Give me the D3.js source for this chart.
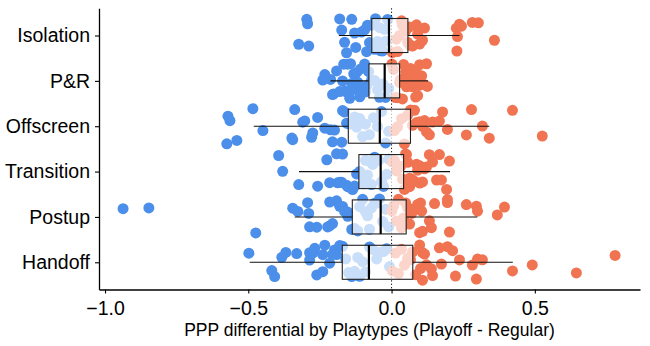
<!DOCTYPE html>
<html>
<head>
<meta charset="utf-8">
<script src="https://cdn.jsdelivr.net/npm/d3@7"></script>
<style>
  body { margin: 0; background: #fff; }
  svg { display: block; font-family: "Liberation Sans", Arial, sans-serif; }
</style>
</head>
<body>
<svg id="chart" width="650" height="346"></svg>
<script>
// ---------------- data ----------------
const categories = ["Isolation", "P&R", "Offscreen", "Transition", "Postup", "Handoff"];

const isolationValues = [-0.324, -0.296, -0.293, -0.289, -0.181, -0.174, -0.164, -0.157, -0.139, -0.129, -0.125, -0.105, -0.094, -0.087, -0.084, -0.077, -0.070, -0.066, -0.059, -0.056, -0.052, -0.049, -0.042, -0.038, -0.031, -0.024, -0.021, -0.014,
  0.003, 0.017, 0.021, 0.028, 0.035, 0.038, 0.038, 0.049, 0.056, 0.063, 0.063, 0.073, 0.087, 0.091, 0.098, 0.108, 0.115, 0.226, 0.228, 0.230, 0.237, 0.244, 0.282, 0.303, 0.359];
const prValues = [-0.240, -0.233, -0.213, -0.206, -0.202, -0.192, -0.181, -0.171, -0.167, -0.164, -0.157, -0.153, -0.146, -0.143, -0.139, -0.136, -0.132, -0.122, -0.118, -0.111, -0.108, -0.105, -0.094, -0.091, -0.087, -0.080, -0.070, -0.059, -0.049, -0.042, -0.031, -0.021, -0.010,
  0.001, 0.007, 0.014, 0.021, 0.028, 0.031, 0.038, 0.042, 0.049, 0.052, 0.059, 0.063, 0.066, 0.073, 0.080, 0.084, 0.087, 0.091, 0.094, 0.098, 0.105, 0.115, 0.122, 0.125];
const offscreenValues = [-0.575, -0.571, -0.564, -0.540, -0.484, -0.449, -0.348, -0.345, -0.338, -0.310, -0.303, -0.279, -0.275, -0.258, -0.233, -0.213, -0.206, -0.199, -0.174, -0.171, -0.164, -0.157, -0.146, -0.129, -0.122, -0.111, -0.101, -0.091, -0.077, -0.063, -0.049, -0.035, -0.021, -0.010,
  0.010, 0.021, 0.035, 0.045, 0.056, 0.066, 0.073, 0.080, 0.087, 0.098, 0.108, 0.115, 0.122, 0.132, 0.143, 0.167, 0.178, 0.195, 0.261, 0.279, 0.317, 0.341, 0.422, 0.526];
const transitionValues = [-0.394, -0.380, -0.324, -0.258, -0.226, -0.216, -0.192, -0.188, -0.181, -0.174, -0.171, -0.157, -0.153, -0.146, -0.136, -0.129, -0.122, -0.111, -0.105, -0.098, -0.091, -0.084, -0.077, -0.070, -0.066, -0.059, -0.052, -0.045, -0.035, -0.028, -0.017, -0.010,
  0.003, 0.010, 0.017, 0.024, 0.031, 0.038, 0.045, 0.049, 0.052, 0.056, 0.063, 0.063, 0.070, 0.073, 0.080, 0.087, 0.091, 0.098, 0.098, 0.108, 0.115, 0.122, 0.132, 0.143, 0.157, 0.167, 0.174, 0.192, 0.202];
const postupValues = [-0.937, -0.847, -0.474, -0.345, -0.327, -0.293, -0.289, -0.286, -0.261, -0.223, -0.216, -0.216, -0.206, -0.192, -0.181, -0.171, -0.164, -0.153, -0.153, -0.139, -0.129, -0.118, -0.111, -0.101, -0.091, -0.084, -0.077, -0.070, -0.059, -0.052, -0.042, -0.031, -0.021, -0.010,
  0.001, 0.007, 0.017, 0.024, 0.035, 0.042, 0.049, 0.056, 0.063, 0.070, 0.077, 0.091, 0.098, 0.098, 0.101, 0.105, 0.108, 0.132, 0.139, 0.150, 0.195, 0.195, 0.202, 0.261, 0.296, 0.300, 0.369, 0.394];
const handoffValues = [-0.498, -0.418, -0.408, -0.383, -0.369, -0.331, -0.286, -0.286, -0.275, -0.268, -0.261, -0.240, -0.240, -0.233, -0.216, -0.206, -0.199, -0.192, -0.181, -0.171, -0.160, -0.150, -0.139, -0.129, -0.118, -0.111, -0.101, -0.091, -0.077, -0.066, -0.052, -0.042, -0.028, -0.017, -0.007,
  0.003, 0.014, 0.024, 0.035, 0.045, 0.056, 0.066, 0.073, 0.084, 0.098, 0.101, 0.108, 0.108, 0.115, 0.122, 0.139, 0.143, 0.167, 0.174, 0.195, 0.213, 0.223, 0.237, 0.282, 0.296, 0.300, 0.317, 0.422, 0.491, 0.645, 0.780];

// box statistics per category (same order as categories)
const whiskerLow  = [-0.184, -0.213, -0.481, -0.323, -0.338, -0.495];
const q1          = [-0.069, -0.079, -0.151, -0.114, -0.137, -0.172];
const medians     = [-0.009, -0.024, -0.041, -0.038, -0.038, -0.079];
const q3          = [ 0.057,  0.028,  0.066,  0.042,  0.051,  0.074];
const whiskerHigh = [ 0.237,  0.127,  0.341,  0.204,  0.299,  0.423];

const xTicks = [-1.0, -0.5, 0.0, 0.5];
const xTitle = "PPP differential by Playtypes (Playoff - Regular)";

// ---------------- layout ----------------
const valuesByCat = [isolationValues, prValues, offscreenValues, transitionValues, postupValues, handoffValues];
const W = 650, H = 346;
const margin = { left: 99, right: 10, top: 8.3, bottom: 56.5 };
const svg = d3.select("#chart");

const x = d3.scaleLinear().domain([-1.021, 0.867]).range([margin.left, W - margin.right]);
const y = d3.scalePoint().domain(categories).range([margin.top, H - margin.bottom]).padding(0.6);
const step = y.step();

const blue = "#4b8fea";
const orange = "#f07352";

// deterministic jitter
const rng = d3.randomUniform.source(d3.randomLcg(0.4242))(-0.4, 0.4);

const points = [];
categories.forEach((c, i) => {
  valuesByCat[i].forEach(v => points.push({ cat: c, v: v, j: rng() }));
});

// points
svg.append("g").selectAll("circle").data(points).join("circle")
  .attr("cx", d => x(d.v))
  .attr("cy", d => y(d.cat) + d.j * step)
  .attr("r", 5.5)
  .attr("fill", d => d.v < 0 ? blue : orange);

// zero line
svg.append("line")
  .attr("x1", x(0)).attr("x2", x(0))
  .attr("y1", margin.top).attr("y2", H - margin.bottom)
  .attr("stroke", "#000").attr("stroke-width", 1)
  .attr("stroke-dasharray", "1.2,2.2");

// boxes
const boxH = step * 0.75;
const boxes = svg.append("g").selectAll("g").data(categories).join("g");
boxes.append("line")
  .attr("x1", (d, i) => x(whiskerLow[i])).attr("x2", (d, i) => x(q1[i]))
  .attr("y1", d => y(d)).attr("y2", d => y(d))
  .attr("stroke", "#111").attr("stroke-width", 1.1);
boxes.append("line")
  .attr("x1", (d, i) => x(q3[i])).attr("x2", (d, i) => x(whiskerHigh[i]))
  .attr("y1", d => y(d)).attr("y2", d => y(d))
  .attr("stroke", "#111").attr("stroke-width", 1.1);
boxes.append("rect")
  .attr("x", (d, i) => x(q1[i]))
  .attr("width", (d, i) => x(q3[i]) - x(q1[i]))
  .attr("y", d => y(d) - boxH / 2)
  .attr("height", boxH)
  .attr("fill", "rgba(255,255,255,0.7)")
  .attr("stroke", "#222").attr("stroke-width", 1.1);
boxes.append("line")
  .attr("x1", (d, i) => x(medians[i])).attr("x2", (d, i) => x(medians[i]))
  .attr("y1", d => y(d) - boxH / 2).attr("y2", d => y(d) + boxH / 2)
  .attr("stroke", "#000").attr("stroke-width", 2.2);

// axes
const xAxis = svg.append("g")
  .attr("transform", `translate(0,${H - margin.bottom})`)
  .call(d3.axisBottom(x).tickValues(xTicks).tickFormat(d3.format(".1f")).tickSize(4).tickPadding(8).tickSizeOuter(0));
xAxis.select(".domain").attr("stroke", "#000").attr("stroke-width", 1.3);
xAxis.selectAll(".tick line").attr("stroke", "#000").attr("stroke-width", 1.1);
xAxis.selectAll(".tick text").attr("font-size", 19.5).attr("fill", "#000")
  .attr("font-family", '"Liberation Sans", Arial, sans-serif');

const yAxis = svg.append("g")
  .attr("transform", `translate(${margin.left},0)`)
  .call(d3.axisLeft(y).tickSize(4).tickPadding(5).tickSizeOuter(0));
yAxis.select(".domain").attr("stroke", "#000").attr("stroke-width", 1.3);
yAxis.selectAll(".tick line").attr("stroke", "#000").attr("stroke-width", 1.1);
yAxis.selectAll(".tick text").attr("font-size", 19.5).attr("fill", "#000")
  .attr("font-family", '"Liberation Sans", Arial, sans-serif');

// x title
svg.append("text")
  .attr("x", (margin.left + W - margin.right) / 2 + 0)
  .attr("y", 336)
  .attr("text-anchor", "middle")
  .attr("font-size", 17.5)
  .attr("fill", "#000")
  .text(xTitle);
</script>
</body>
</html>
